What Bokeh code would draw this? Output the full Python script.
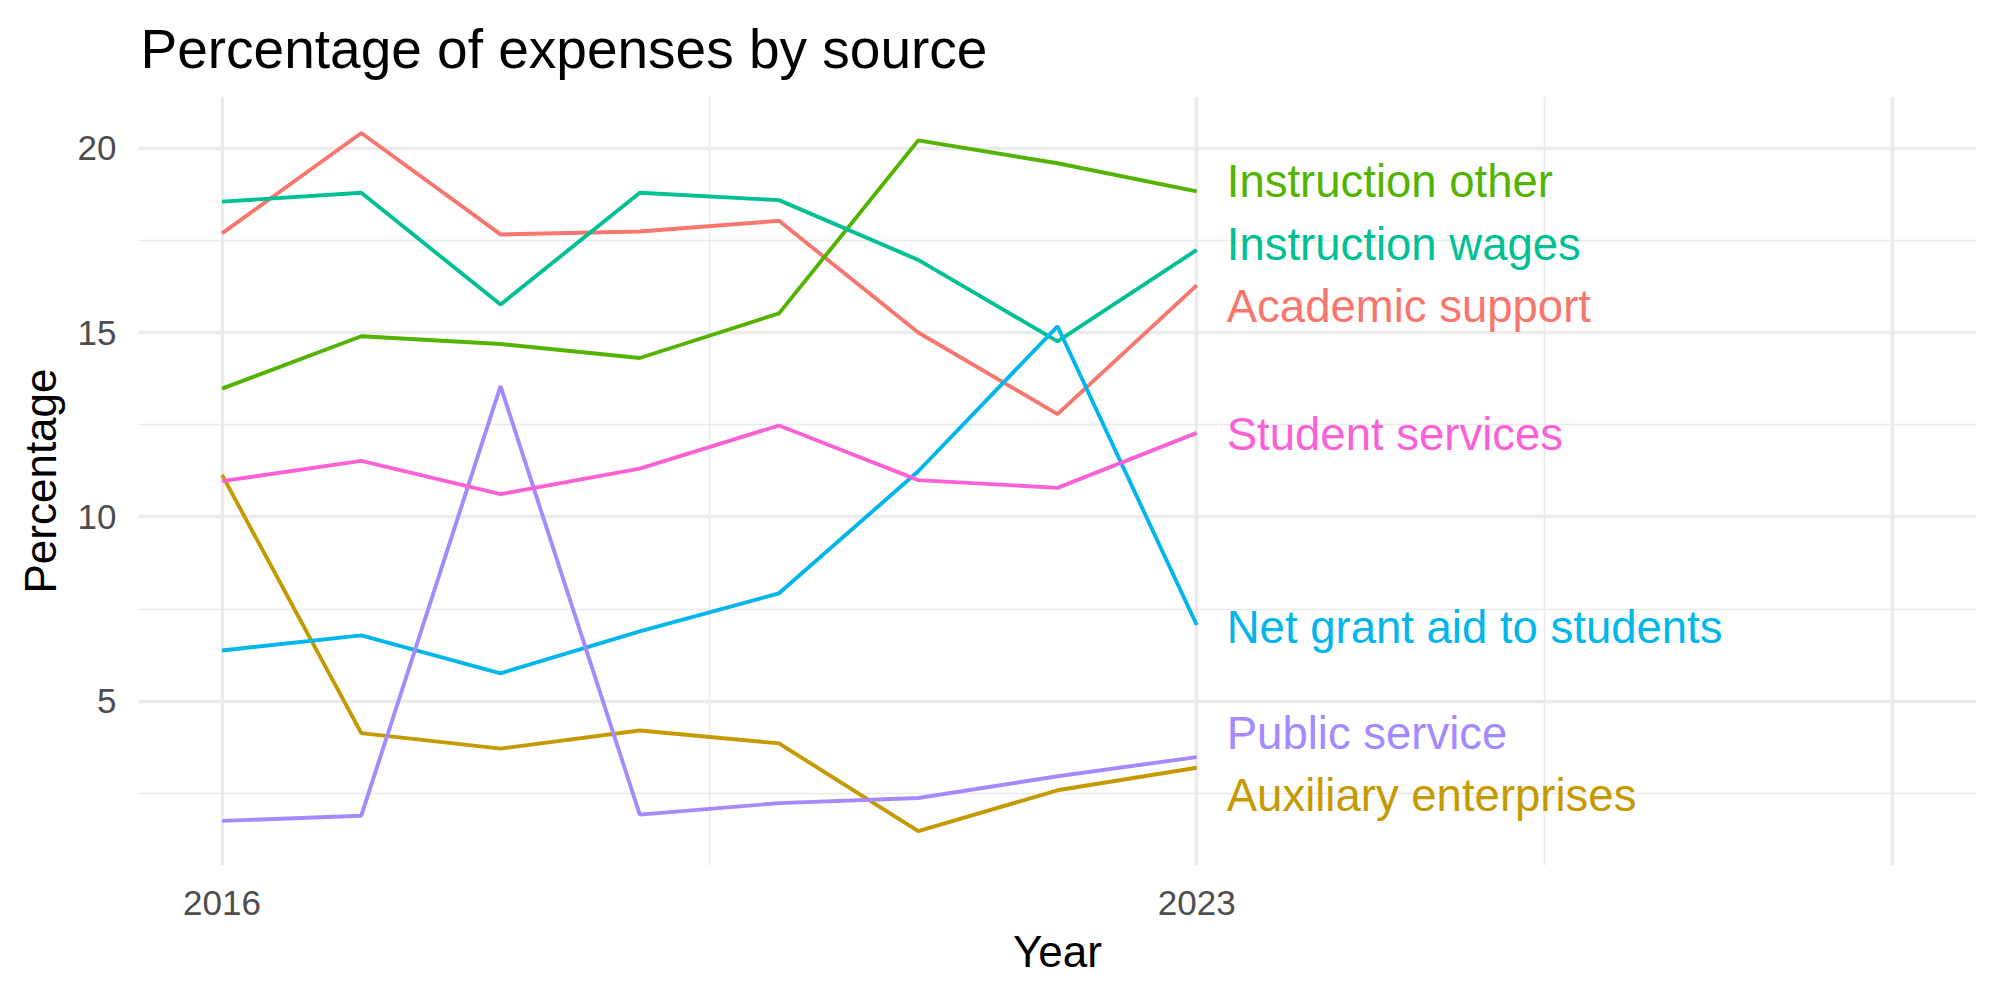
from bokeh.plotting import figure
from bokeh.models import FixedTicker, Range1d, ColumnDataSource
from bokeh.core.properties import value
from bokeh.embed import file_html
from bokeh.resources import INLINE

# Share of total expenses (%) by source, 2016-2023
years = [2016, 2017, 2018, 2019, 2020, 2021, 2022, 2023]
academic_support = [17.69, 20.41, 17.66, 17.74, 18.03, 15.00, 12.79, 16.28]
auxiliary_enterprises = [11.14, 4.14, 3.72, 4.21, 3.86, 1.48, 2.59, 3.20]
instruction_other = [13.48, 14.90, 14.69, 14.31, 15.52, 20.21, 19.59, 18.83]
instruction_wages = [18.55, 18.79, 15.76, 18.79, 18.59, 16.97, 14.76, 17.24]
net_grant_aid = [6.38, 6.79, 5.76, 6.90, 7.93, 11.24, 15.17, 7.07]
public_service = [1.76, 1.90, 13.55, 1.93, 2.24, 2.38, 2.97, 3.49]
student_services = [10.97, 11.52, 10.62, 11.31, 12.48, 11.00, 10.79, 12.28]

series_names = ["Academic support", "Auxiliary enterprises", "Instruction other",
                "Instruction wages", "Net grant aid to students", "Public service",
                "Student services"]
series_values = [academic_support, auxiliary_enterprises, instruction_other,
                 instruction_wages, net_grant_aid, public_service, student_services]
series_colors = ["#F8766D", "#C49A00", "#53B400", "#00C094", "#00B6EB", "#A58AFF", "#FB61D7"]

x_ticks = [2016, 2023, 2028]
x_tick_labels = {2016: "2016", 2023: "2023", 2028: ""}
y_ticks = [5, 10, 15, 20]

FONT = "Liberation Sans"


def spread_labels(ends, gap):
    """Push end labels apart so neighbours are at least `gap` apart."""
    order = sorted(range(len(ends)), key=lambda i: -ends[i])
    clusters = []
    for i in order:
        clusters.append([i])
        # merge clusters while they overlap
        while len(clusters) > 1:
            a, b = clusters[-2], clusters[-1]
            ca = sum(ends[k] for k in a) / len(a)
            cb = sum(ends[k] for k in b) / len(b)
            low_a = ca - (len(a) - 1) / 2 * gap
            high_b = cb + (len(b) - 1) / 2 * gap
            if low_a - high_b < gap:
                clusters[-2:] = [a + b]
            else:
                break
    pos = [0.0] * len(ends)
    for c in clusters:
        center = sum(ends[k] for k in c) / len(c)
        for j, k in enumerate(c):
            pos[k] = center + ((len(c) - 1) / 2 - j) * gap
    return pos


p = figure(
    width=2000, height=1000,
    x_range=Range1d(2015.4, 2028.6), y_range=Range1d(0.55, 21.4),
    output_backend="svg", toolbar_location=None,
    min_border_left=138, min_border_right=24, min_border_top=96, min_border_bottom=135,
)
p.outline_line_color = None
p.background_fill_color = "white"
p.border_fill_color = "white"

p.title.text = "Percentage of expenses by source"
p.title.text_font = FONT
p.title.text_font_size = "55px"
p.title.text_font_style = "normal"
p.title.text_color = "black"
p.title.align = "left"
p.title.vertical_align = "top"
p.title.offset = 2
p.title.standoff = 30

# axes
p.xaxis.ticker = FixedTicker(ticks=x_ticks, minor_ticks=[2019.5, 2025.5])
p.xaxis.major_label_overrides = x_tick_labels
p.yaxis.ticker = FixedTicker(ticks=y_ticks, minor_ticks=[2.5, 7.5, 12.5, 17.5])
p.xaxis.axis_label = "Year"
p.yaxis.axis_label = "Percentage"
for ax in (p.xaxis, p.yaxis):
    ax.axis_line_color = None
    ax.major_tick_line_color = None
    ax.minor_tick_line_color = None
    ax.major_tick_out = 0
    ax.major_tick_in = 0
    ax.minor_tick_out = 0
    ax.minor_tick_in = 0
    ax.major_label_text_font = FONT
    ax.major_label_text_font_size = "35px"
    ax.major_label_text_color = "#4D4D4D"
    ax.axis_label_text_font = FONT
    ax.axis_label_text_font_size = "44px"
    ax.axis_label_text_font_style = "normal"
    ax.axis_label_text_color = "black"
p.xaxis.major_label_standoff = 25
p.xaxis.axis_label_standoff = 9
p.yaxis.major_label_standoff = 22
p.yaxis.axis_label_standoff = 10

# grid
for g in (p.xgrid, p.ygrid):
    g.grid_line_color = "#EBEBEB"
    g.grid_line_width = 3.4
    g.minor_grid_line_color = "#EBEBEB"
    g.minor_grid_line_width = 1.7

# lines
for name, vals, col in zip(series_names, series_values, series_colors):
    p.line(years, vals, line_color=col, line_width=3.9)

# end labels
ends = [v[-1] for v in series_values]
label_y = spread_labels(ends, 1.7)
src = ColumnDataSource(dict(
    x=[years[-1]] * len(series_names), y=label_y,
    text=series_names, color=series_colors,
))
p.text(x="x", y="y", text="text", source=src, text_color="color",
       text_font=value(FONT), text_font_size="45.5px",
       text_align="left", text_baseline="middle", x_offset=30, y_offset=2)

open("out.html", "w").write(file_html(p, INLINE))
